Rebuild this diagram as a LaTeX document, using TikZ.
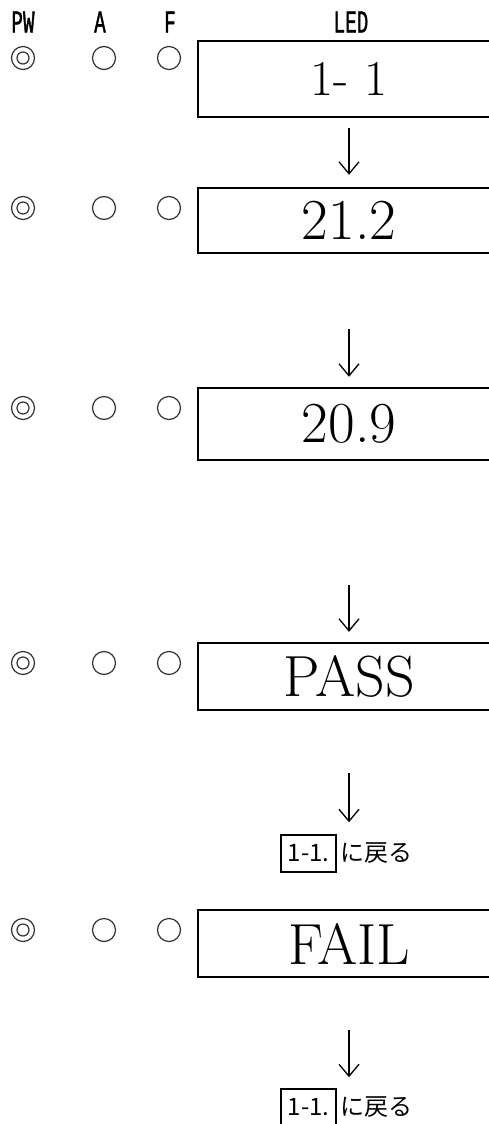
\documentclass[tikz,border=0pt]{standalone}
\usepackage{fontspec}
\usetikzlibrary{arrows.meta}
\usetikzlibrary{positioning}
\newfontfamily\hdfont{Liberation Mono}[FakeStretch=0.6, FakeBold=1.2]
\newfontfamily\jpfont{Noto Sans CJK JP}

\tikzset{
  hdr/.style={inner sep=0pt, font=\hdfont\fontsize{32}{32}\selectfont},
  lampoff/.style={circle, draw=black!80, line width=1.2pt, minimum size=23pt, inner sep=0pt},
  lampon/.style={lampoff, path picture={\draw[black!80, line width=1.2pt] (path picture bounding box.center) circle (6pt);}},
  ledbox/.style={draw, line width=2.4pt, minimum width=302pt, minimum height=67pt, inner sep=0pt, font=\fontsize{58}{58}\selectfont},
  flow/.style={-{Straight Barb[length=12pt,width=20pt]}, line width=1.3pt},
  retbox/.style={draw, line width=1.5pt, minimum width=55pt, minimum height=37pt, inner sep=1pt, font=\jpfont\fontsize{24}{24}\selectfont},
  rettext/.style={inner sep=0pt, font=\jpfont\fontsize{24}{24}\selectfont}
}

\begin{document}
\begin{tikzpicture}[x=1pt, y=-1pt]
    \useasboundingbox (0,0) rectangle (489,1124);
    \clip (0,0) rectangle (489,1124);
    % Header
    \node[hdr] (hpw) at (23,22) {PW};
    \node[hdr] (ha) at (100,22) {A};
    \node[hdr] (hf) at (170,22) {F};
    \node[hdr] (hled) at (351,22) {LED};
    % Row 1
    \node[lampon] (pw1) at (23,58) {};
    \node[lampoff] (a1) at (104,58) {};
    \node[lampoff] (f1) at (169,58) {};
    \node[ledbox, minimum height=76pt, font=\fontsize{50}{50}\selectfont] (led1) at (349,79) {1- 1};
    % Row 2
    \node[lampon] (pw2) at (23,208) {};
    \node[lampoff] (a2) at (104,208) {};
    \node[lampoff] (f2) at (169,208) {};
    \node[ledbox, minimum height=65pt] (led2) at (349,220.5) {21.2};
    % Row 3
    \node[lampon] (pw3) at (23,408) {};
    \node[lampoff] (a3) at (104,408) {};
    \node[lampoff] (f3) at (169,408) {};
    \node[ledbox, minimum height=72pt] (led3) at (349,424) {20.9};
    % Row 4
    \node[lampon] (pw4) at (23,663) {};
    \node[lampoff] (a4) at (104,663) {};
    \node[lampoff] (f4) at (169,663) {};
    \node[ledbox] (led4) at (349,676.5) {PASS};
    % Back to 1-1
    \node[retbox] (ret1) at (308.5,853.5) {1-1.};
    \node[rettext, right=4pt of ret1] (ret1t) {に戻る};
    % Row 5
    \node[lampon] (pw5) at (23,930) {};
    \node[lampoff] (a5) at (104,930) {};
    \node[lampoff] (f5) at (169,930) {};
    \node[ledbox] (led5) at (349,943.5) {FAIL};
    \node[retbox] (ret2) at (308.5,1107.5) {1-1.};
    \node[rettext, right=4pt of ret2] (ret2t) {に戻る};
    % Arrows
    \draw[flow, shorten <=10pt, shorten >=12pt] (led1.south) -- (led2.north);
    \draw[flow, shorten <=75pt, shorten >=10pt] (led2.south) -- (led3.north);
    \draw[flow, shorten <=124pt, shorten >=10pt] (led3.south) -- (led4.north);
    \draw[flow, shorten <=62pt, shorten >=12pt] (led4.south) -- (led4.south |- ret1.north);
    \draw[flow, shorten <=52pt, shorten >=11pt] (led5.south) -- (led5.south |- ret2.north);
\end{tikzpicture}
\end{document}
